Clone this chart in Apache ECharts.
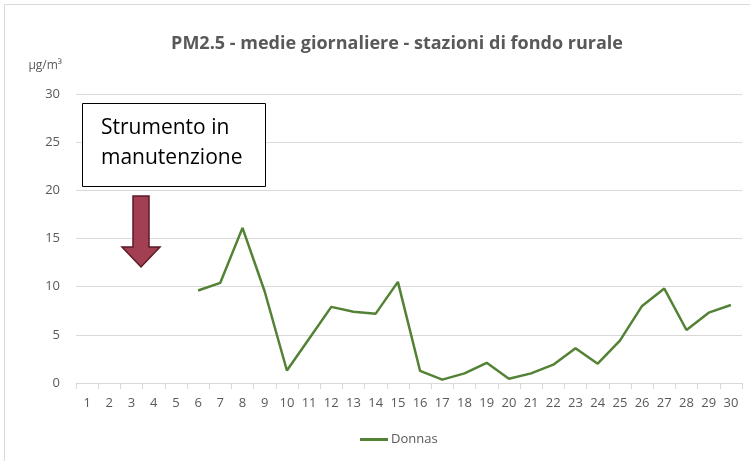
<!DOCTYPE html>
<html>
<head>
<meta charset="utf-8">
<script src="https://cdn.jsdelivr.net/npm/echarts@6/dist/echarts.min.js"></script>
<style>
  html, body { margin: 0; padding: 0; background: #fff; }
  #chart { width: 750px; height: 461px; }
</style>
</head>
<body>
<div id="chart"></div>
<script>
const days = [...Array(30).keys()].map((d) => String(d + 1));
// Donnas, giorni 1-5 strumento in manutenzione
const donnas = [
  null, null, null, null, null,
  9.6, 10.4, 16.1, 9.5, 1.3,
  4.6, 7.9, 7.4, 7.2, 10.5,
  1.25, 0.35, 1.0, 2.1, 0.45,
  1.0, 1.9, 3.6, 2.0, 4.4,
  8.0, 9.8, 5.5, 7.3, 8.1,
];
const yTicks = [0, 5, 10, 15, 20, 25, 30];

const chart = echarts.init(document.getElementById("chart"));
const font = "'Open Sans', 'Noto Sans', sans-serif";

chart.setOption({
  animation: false,
  title: {
    text: "PM2.5 - medie giornaliere - stazioni di fondo rurale",
    left: 392,
    textAlign: "center",
    top: 30,
    textStyle: { color: "#595959", fontSize: 18, fontWeight: "bold", fontFamily: font },
  },
  grid: { left: 76, right: 8, top: 94, bottom: 78 },
  legend: {
    bottom: 10,
    left: 355,
    itemWidth: 28,
    itemHeight: 3,
    itemGap: 4,
    icon: "rect",
    textStyle: { color: "#595959", fontSize: 13, fontFamily: font, padding: [0, 0, 0, -2] },
    data: ["Donnas"],
  },
  xAxis: {
    type: "category",
    data: days,
    boundaryGap: true,
    axisLine: { lineStyle: { color: "#d9d9d9" } },
    axisTick: { show: true, length: 6, lineStyle: { color: "#d9d9d9" } },
    axisLabel: { color: "#595959", fontSize: 13, fontFamily: font, margin: 14 },
  },
  yAxis: {
    type: "value",
    min: yTicks[0],
    max: yTicks[yTicks.length - 1],
    interval: 5,
    name: "μg/m³",
    nameLocation: "end",
    nameGap: 22,
    nameTextStyle: { color: "#595959", fontSize: 12, fontFamily: font, align: "right", padding: [0, 14, 0, 0] },
    axisLine: { show: false },
    axisTick: { show: false },
    axisLabel: { color: "#595959", fontSize: 13, fontFamily: font, margin: 16 },
    splitLine: { lineStyle: { color: "#d9d9d9" } },
  },
  series: [
    {
      name: "Donnas",
      type: "line",
      data: donnas,
      symbol: "none",
      connectNulls: false,
      lineStyle: { color: "#548235", width: 2.5 },
      itemStyle: { color: "#548235" },
    },
  ],
  graphic: [
    {
      type: "rect",
      shape: { x: 4.5, y: 4.5, width: 760, height: 470 },
      style: { fill: "none", stroke: "#d9d9d9", lineWidth: 1 },
      silent: true,
    },
    {
      type: "rect",
      shape: { x: 82.5, y: 103.5, width: 183, height: 83 },
      style: { fill: "#fff", stroke: "#000", lineWidth: 1 },
      z: 10,
    },
    {
      type: "text",
      left: 101,
      top: 113,
      z: 11,
      style: {
        text: "Strumento in\nmanutenzione",
        fill: "#000",
        fontSize: 21,
        lineHeight: 30,
        fontFamily: "'Open Sans', 'Noto Sans', sans-serif",
      },
    },
    {
      type: "polygon",
      z: 10,
      shape: {
        points: [[133, 196], [149, 196], [149, 247], [160, 247], [141, 267], [122, 247], [133, 247]],
      },
      style: { fill: "#a33f52", stroke: "#5b1b27", lineWidth: 1.5 },
    },
  ],
});
</script>
</body>
</html>
